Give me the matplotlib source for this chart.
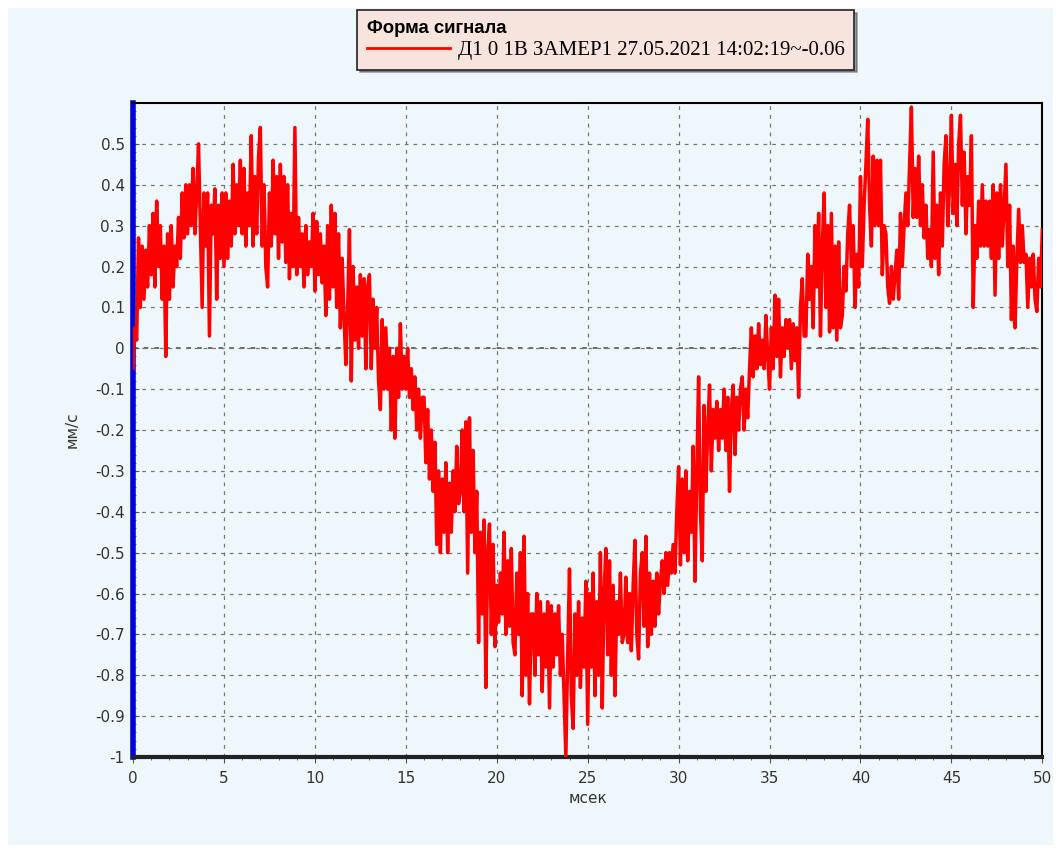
import matplotlib.pyplot as plt
import numpy as np
from matplotlib.ticker import FuncFormatter, MultipleLocator

# signal samples, one every 0.1 ms from 0 to 50 ms (one row per ms)
SIGNAL = [
    -0.05, 0.05, 0.02, 0.27, 0.10, 0.25, 0.12, 0.24, 0.15, 0.30,
    0.18, 0.33, 0.15, 0.36, 0.20, 0.30, 0.12, 0.25, -0.02, 0.28,
    0.12, 0.30, 0.15, 0.25, 0.20, 0.32, 0.22, 0.38, 0.27, 0.40,
    0.28, 0.40, 0.30, 0.44, 0.28, 0.38, 0.50, 0.30, 0.10, 0.38,
    0.25, 0.38, 0.03, 0.35, 0.28, 0.39, 0.12, 0.35, 0.22, 0.38,
    0.20, 0.38, 0.22, 0.36, 0.25, 0.45, 0.28, 0.40, 0.30, 0.46,
    0.28, 0.44, 0.25, 0.38, 0.30, 0.52, 0.25, 0.42, 0.28, 0.47,
    0.54, 0.25, 0.40, 0.20, 0.15, 0.38, 0.25, 0.46, 0.28, 0.42,
    0.22, 0.45, 0.26, 0.42, 0.21, 0.40, 0.17, 0.33, 0.20, 0.54,
    0.18, 0.32, 0.20, 0.28, 0.15, 0.30, 0.18, 0.26, 0.20, 0.33,
    0.14, 0.31, 0.18, 0.28, 0.16, 0.25, 0.08, 0.30, 0.12, 0.35,
    0.15, 0.33, 0.10, 0.28, 0.05, 0.22, 0.08, -0.04, 0.10, 0.29,
    -0.08, 0.20, 0.02, 0.15, 0.00, 0.18, 0.03, 0.17, -0.05, 0.15,
    0.18, -0.05, 0.12, 0.00, 0.10, -0.08, -0.15, 0.07, -0.10, 0.05,
    -0.10, 0.00, -0.20, -0.02, -0.22, 0.00, -0.12, 0.06, -0.10, -0.02,
    -0.10, 0.00, -0.12, -0.05, -0.15, -0.07, -0.20, -0.10, -0.22, -0.12,
    -0.12, -0.28, -0.15, -0.32, -0.20, -0.35, -0.23, -0.48, -0.30, -0.50,
    -0.32, -0.45, -0.28, -0.50, -0.33, -0.45, -0.30, -0.40, -0.24, -0.38,
    -0.35, -0.20, -0.40, -0.18, -0.55, -0.17, -0.45, -0.25, -0.50, -0.35,
    -0.72, -0.45, -0.65, -0.42, -0.83, -0.50, -0.43, -0.70, -0.48, -0.73,
    -0.58, -0.67, -0.55, -0.65, -0.45, -0.70, -0.52, -0.68, -0.49, -0.72,
    -0.75, -0.55, -0.70, -0.50, -0.85, -0.46, -0.80, -0.60, -0.87, -0.65,
    -0.65, -0.80, -0.60, -0.75, -0.62, -0.84, -0.65, -0.78, -0.62, -0.88,
    -0.63, -0.78, -0.65, -0.75, -0.63, -0.80, -0.70, -0.85, -1.00, -0.75,
    -0.54, -0.85, -0.93, -0.65, -0.80, -0.62, -0.83, -0.66, -0.78, -0.57,
    -0.92, -0.60, -0.78, -0.55, -0.85, -0.62, -0.80, -0.50, -0.88, -0.60,
    -0.49, -0.75, -0.52, -0.80, -0.58, -0.85, -0.62, -0.70, -0.55, -0.72,
    -0.70, -0.56, -0.72, -0.60, -0.74, -0.58, -0.47, -0.70, -0.76, -0.55,
    -0.50, -0.68, -0.46, -0.73, -0.55, -0.70, -0.57, -0.68, -0.55, -0.65,
    -0.57, -0.52, -0.60, -0.50, -0.58, -0.50, -0.55, -0.48, -0.55, -0.40,
    -0.29, -0.53, -0.32, -0.50, -0.30, -0.52, -0.35, -0.45, -0.24, -0.57,
    -0.30, -0.07, -0.40, -0.52, -0.14, -0.35, -0.20, -0.09, -0.30, -0.15,
    -0.22, -0.13, -0.25, -0.15, -0.22, -0.10, -0.25, -0.12, -0.35, -0.15,
    -0.09, -0.26, -0.12, -0.20, -0.10, -0.07, -0.20, -0.10, -0.17, -0.05,
    0.05, -0.07, 0.03, -0.05, 0.06, -0.04, 0.02, -0.05, 0.08, -0.02,
    -0.10, 0.05, -0.05, 0.13, -0.02, 0.12, -0.07, 0.05, -0.02, 0.07,
    0.00, 0.07, -0.05, 0.06, -0.03, 0.05, -0.12, 0.10, 0.17, 0.03,
    0.03, 0.23, 0.12, 0.20, 0.05, 0.30, 0.15, 0.33, 0.03, 0.25,
    0.38, 0.10, 0.30, 0.04, 0.33, 0.05, 0.25, 0.02, 0.26, 0.05,
    0.08, 0.20, 0.14, 0.28, 0.35, 0.20, 0.30, 0.10, 0.23, 0.15,
    0.42, 0.20, 0.35, 0.45, 0.56, 0.35, 0.25, 0.47, 0.30, 0.46,
    0.30, 0.46, 0.18, 0.30, 0.28, 0.15, 0.11, 0.20, 0.12, 0.18,
    0.24, 0.12, 0.33, 0.20, 0.30, 0.38, 0.30, 0.45, 0.59, 0.32,
    0.44, 0.32, 0.47, 0.30, 0.40, 0.27, 0.35, 0.22, 0.29, 0.20,
    0.48, 0.22, 0.35, 0.18, 0.38, 0.25, 0.45, 0.52, 0.30, 0.40,
    0.57, 0.33, 0.45, 0.30, 0.50, 0.57, 0.35, 0.48, 0.28, 0.42,
    0.35, 0.52, 0.10, 0.30, 0.22, 0.36, 0.25, 0.40, 0.25, 0.36,
    0.25, 0.36, 0.22, 0.40, 0.13, 0.38, 0.22, 0.40, 0.25, 0.35,
    0.45, 0.20, 0.35, 0.07, 0.25, 0.05, 0.22, 0.34, 0.21, 0.30,
    0.21, 0.23, 0.10, 0.22, 0.15, 0.23, 0.12, 0.09, 0.22, 0.15,
    0.29,
]
T_END = 50.0

LEGEND_TITLE = "Форма сигнала"
SERIES_LABEL = "Д1 0 1В ЗАМЕР1 27.05.2021 14:02:19~-0.06"
X_LABEL = "мсек"
Y_LABEL = "мм/с"

BG = "#eef8fc"

plt.rcParams["font.family"] = ["DejaVu Sans"]

fig = plt.figure(figsize=(10.61, 8.5), dpi=100, facecolor="white")
# light blue panel inside a thin white border
fig.patches.append(plt.Rectangle((0.008, 0.006), 0.984, 0.985, transform=fig.transFigure,
                                 facecolor=BG, edgecolor="none", zorder=-10))

ax = fig.add_axes([0.1254, 0.1094, 0.857, 0.7694])
ax.set_facecolor(BG)

t = np.linspace(0, T_END, len(SIGNAL))
line, = ax.plot(t, SIGNAL, color="#ff0000", lw=2.5, label=SERIES_LABEL, zorder=3)

ax.set_xlim(0, 50)
ax.set_ylim(-1.0, 0.6)
ax.xaxis.set_major_locator(MultipleLocator(5))
ax.xaxis.set_minor_locator(MultipleLocator(1))
ax.yaxis.set_minor_locator(MultipleLocator(0.02))


def fmt(v, pos):
    s = f"{v:.1f}"
    if s in ("0.0", "-0.0"):
        return "0"
    if s.endswith(".0"):
        return s[:-2]
    return s


ax.set_yticks([v / 10 for v in range(-10, 6)])
ax.yaxis.set_major_formatter(FuncFormatter(fmt))

ax.grid(True, which="major", color="#777777", linestyle=(0, (3, 4)), lw=0.9)
ax.axhline(0, color="#444444", linestyle=(0, (3, 4)), lw=1.1, zorder=1)

ax.tick_params(which="major", length=4, color="#555555", labelsize=11, labelcolor="#333333", pad=6)
ax.tick_params(which="minor", length=2, color="#555555")
ax.tick_params(axis="y", which="both", direction="in")

ax.spines["left"].set_color("#0000dd")
ax.spines["left"].set_linewidth(4)
ax.spines["bottom"].set_linewidth(3)
ax.spines["bottom"].set_color("#222222")
ax.spines["top"].set_linewidth(1.5)
ax.spines["right"].set_linewidth(1.5)

ax.set_xlabel(X_LABEL, fontsize=11, color="#333333", labelpad=4)
ax.set_ylabel(Y_LABEL, fontsize=11, color="#333333", labelpad=11)

leg = fig.legend(handles=[line], labels=[SERIES_LABEL], title=LEGEND_TITLE,
                 loc="upper center", bbox_to_anchor=(0.571, 0.988), borderaxespad=0,
                 prop={"family": "Liberation Serif", "size": 15},
                 handlelength=4.0, handletextpad=0.4, frameon=True, fancybox=False,
                 shadow=True, alignment="left", borderpad=0.45, labelspacing=0.2)
leg.get_lines()[0].set_linewidth(2)
title = leg.get_title()
title.set_fontweight("bold")
title.set_fontsize(13.3)
title.set_family("Liberation Sans")
frame = leg.get_frame()
frame.set_facecolor("#f7e4dc")
frame.set_edgecolor("#222222")
frame.set_linewidth(1.2)

fig.savefig("out.png", dpi=100, facecolor=fig.get_facecolor())
